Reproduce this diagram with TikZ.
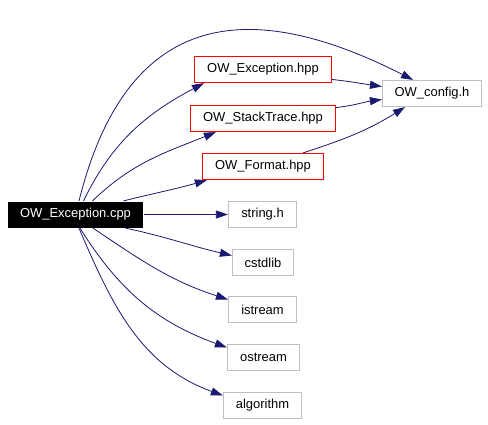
\documentclass[tikz,border=0pt]{standalone}
\usepackage{fontspec}
\setmainfont{Liberation Sans}
\usetikzlibrary{arrows.meta}
\definecolor{edgeblue}{RGB}{25,25,112}
\definecolor{hdrred}{RGB}{255,0,0}
\definecolor{sysgray}{RGB}{191,191,191}
\begin{document}
\begin{tikzpicture}[x=1bp,y=1bp,
    box/.style={rectangle,inner sep=0pt,minimum height=26bp,line width=1.2bp,font=\fontsize{13}{15}\selectfont},
    src/.style={box,fill=black,text=white},
    hdr/.style={box,draw=hdrred,text=black},
    sys/.style={box,draw=sysgray,text=black},
    inc/.style={edgeblue,line width=0.8bp,-{Triangle[length=12bp,width=8bp]}}]
    \useasboundingbox (0,0) rectangle (488,424);
    % files
    \node[src,minimum width=135bp] (cpp) at (75.5,209.5) {OW\_Exception.cpp};
    \node[hdr,minimum width=137bp] (exc) at (263,354.5) {OW\_Exception.hpp};
    \node[hdr,minimum width=145bp] (stk) at (263,305.5) {OW\_StackTrace.hpp};
    \node[hdr,minimum width=121bp] (fmt) at (263,257.5) {OW\_Format.hpp};
    \node[sys,minimum width=99bp] (cfg) at (432,330.5) {OW\_config.h};
    \node[sys,minimum width=68bp] (str) at (262.5,209.5) {string.h};
    \node[sys,minimum width=61bp] (cst) at (263,161.5) {cstdlib};
    \node[sys,minimum width=68bp] (ist) at (262.5,114.5) {istream};
    \node[sys,minimum width=72bp] (ost) at (263.5,66.5) {ostream};
    \node[sys,minimum width=78bp] (alg) at (262.5,18.5) {algorithm};
    % includes of OW_Exception.cpp
    \draw[inc] ([xshift=3.5bp]cpp.north) to[out=76,in=153,looseness=1.38] ([xshift=-19bp]cfg.north);
    \draw[inc] ([xshift=8bp]cpp.north) to[out=64,in=208] ([xshift=10bp]exc.south west);
    \draw[inc] ([xshift=17bp]cpp.north) to[out=44,in=202] ([xshift=26bp]stk.south west);
    \draw[inc] ([xshift=48bp]cpp.north) to[out=14,in=196] ([xshift=5bp]fmt.south west);
    \draw[inc] (cpp.east) -- (str.west);
    \draw[inc] ([xshift=50bp]cpp.south) to[out=-12,in=167] ([yshift=7bp]cst.west);
    \draw[inc] ([xshift=17.5bp]cpp.south) to[out=-34,in=162] ([yshift=10bp]ist.west);
    \draw[inc] ([xshift=4.5bp]cpp.south) to[out=-58,in=160] ([yshift=10bp]ost.west);
    \draw[inc] ([xshift=3.5bp]cpp.south) to[out=-67,in=160] ([yshift=10bp]alg.west);
    % includes of the headers
    \draw[inc] ([yshift=-10bp]exc.east) to[out=-6,in=172] ([yshift=7bp]cfg.west);
    \draw[inc] ([yshift=11bp]stk.east) to[out=6,in=188] ([yshift=-6bp]cfg.west);
    \draw[inc] ([xshift=40bp]fmt.north) to[out=18,in=212] ([xshift=-27bp]cfg.south);
\end{tikzpicture}
\end{document}
